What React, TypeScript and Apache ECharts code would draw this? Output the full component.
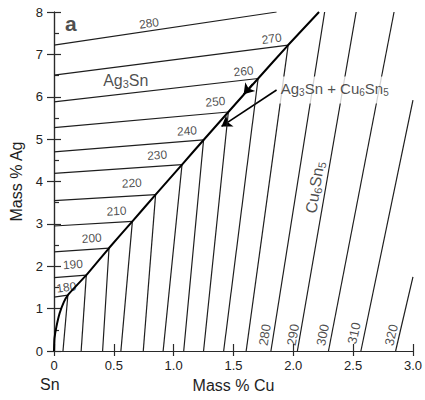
import React, { useEffect, useRef } from 'react';
import * as echarts from 'echarts';

// isotherm temperatures (°C)
const temperatures = [180, 190, 200, 210, 220, 230, 240, 250, 260, 270, 280, 290, 300, 310, 320];

// Ag3Sn primary field isotherms (180..280): value on the Sn–Ag edge and end point
const ag3SnStartY = [1.27, 1.73, 2.34, 2.95, 3.55, 4.19, 4.7, 5.27, 5.88, 6.51, 7.22];
const ag3SnEndX = [0.116, 0.27, 0.46, 0.655, 0.849, 1.07, 1.25, 1.457, 1.706, 1.957, 1.86];
const ag3SnEndY = [1.32, 1.79, 2.43, 3.06, 3.69, 4.4, 4.98, 5.64, 6.43, 7.22, 8.0];

// Cu6Sn5 primary field isotherms (180..320): upper end and intercept at 0 % Ag
const cu6Sn5TopX = [0.116, 0.27, 0.46, 0.655, 0.849, 1.07, 1.25, 1.457, 1.706, 1.957, 2.262, 2.525, 2.842, 3.0, 3.0];
const cu6Sn5TopY = [1.32, 1.79, 2.43, 3.06, 3.69, 4.4, 4.98, 5.64, 6.43, 7.22, 8, 8, 8, 5.92, 1.75];
const cu6Sn5BaseX = [0.075, 0.227, 0.406, 0.559, 0.746, 0.912, 1.084, 1.25, 1.418, 1.606, 1.813, 2.034, 2.294, 2.565, 2.855];

// eutectic valley L -> L + Ag3Sn + Cu6Sn5
const valleyX = [0, 0.004, 0.02, 0.047, 0.083, 0.116, 0.19, 0.27, 0.46, 0.655, 0.849, 1.07, 1.25, 1.457, 1.706, 1.957, 2.215];
const valleyY = [0, 0.3, 0.57, 0.89, 1.16, 1.32, 1.55, 1.79, 2.43, 3.06, 3.69, 4.4, 4.98, 5.64, 6.43, 7.22, 8];

// axis ticks
const xTicks = [0, 0.5, 1.0, 1.5, 2.0, 2.5, 3.0];
const yTicks = [0, 1, 2, 3, 4, 5, 6, 7, 8];
const yMinorTicks = [0.5, 1.5, 2.5, 3.5, 4.5, 5.5, 6.5, 7.5];

// annotation anchors (data coordinates) and angles
const ag3SnLabelAt: [number, number, number][] = [
  [0.103, 1.5, 8], [0.158, 2.04, 4], [0.315, 2.66, 4], [0.522, 3.3, 3], [0.65, 3.96, 3],
  [0.862, 4.62, 4], [1.111, 5.19, 4], [1.349, 5.88, 5], [1.584, 6.6, 6], [1.819, 7.37, 7], [0.794, 7.73, 8],
];
const cu6Sn5LabelAt: [number, number, number][] = [
  [1.761, 0.38, 81], [1.996, 0.38, 80], [2.245, 0.38, 79], [2.507, 0.42, 78], [2.818, 0.38, 77],
];

const FONT = 'Liberation Sans, Arial, sans-serif';
const INK = '#1e1e1e';

export default function App() {
  const ref = useRef<HTMLDivElement>(null);

  useEffect(() => {
    if (!ref.current) return;
    const chart = echarts.init(ref.current, undefined, { renderer: 'svg' });

    const thin = { color: INK, width: 1.2 };
    const series: any[] = [];

    ag3SnStartY.forEach((y0, i) => {
      series.push({
        type: 'line', symbol: 'none', silent: true, clip: true,
        lineStyle: thin,
        data: [[0, y0], [ag3SnEndX[i], ag3SnEndY[i]]],
      });
    });

    cu6Sn5BaseX.forEach((x0, i) => {
      series.push({
        type: 'line', symbol: 'none', silent: true, clip: true,
        lineStyle: thin,
        data: [[cu6Sn5TopX[i], cu6Sn5TopY[i]], [x0, 0]],
      });
    });

    series.push({
      type: 'line', symbol: 'none', silent: true, smooth: 0.2,
      lineStyle: { color: '#000', width: 2 },
      data: valleyX.map((x, i) => [x, valleyY[i]]),
    });

    // arrows
    series.push({
      type: 'lines', coordinateSystem: 'cartesian2d', silent: true,
      symbol: ['none', 'arrow'], symbolSize: [7, 10],
      lineStyle: { color: '#000', width: 1.6, opacity: 1 },
      data: [
        { coords: [[1.86, 6.16], [1.4, 5.3]] },
        { coords: [[1.66, 6.3], [1.585, 6.06]] },
      ],
    });

    const textLabel = (fontSize: number, extra: any = {}) => ({
      show: true, position: 'inside', color: INK, fontFamily: FONT, fontSize,
      formatter: (p: any) => p.name, ...extra,
    });

    // isotherm labels in the Ag3Sn field
    series.push({
      type: 'scatter', symbolSize: 0, silent: true,
      label: textLabel(12),
      data: ag3SnLabelAt.map((a, i) => ({
        name: String(temperatures[i]), value: [a[0], a[1]], label: { rotate: a[2] },
      })),
    });

    // isotherm labels in the Cu6Sn5 field
    series.push({
      type: 'scatter', symbolSize: 0, silent: true,
      label: textLabel(13),
      data: cu6Sn5LabelAt.map((a, i) => ({
        name: String(temperatures[10 + i]), value: [a[0], a[1]], label: { rotate: a[2] },
      })),
    });

    const rich = (fs: number) => ({
      n: { fontSize: fs, fontFamily: FONT, color: INK, lineHeight: fs + 2 },
      s: { fontSize: Math.round(fs * 0.68), fontFamily: FONT, color: INK, lineHeight: 6, verticalAlign: 'bottom' },
    });

    // phase field labels
    series.push({
      type: 'scatter', symbolSize: 0, silent: true, z: 5,
      label: { show: true, position: 'inside' },
      data: [
        {
          name: 'Ag3Sn', value: [0.6, 6.39],
          label: { formatter: '{n|Ag}{s|3}{n|Sn}', rich: rich(16) },
        },
        {
          name: 'Cu6Sn5', value: [2.18, 3.86],
          label: { formatter: '{n|Cu}{s|6}{n|Sn}{s|5}', rich: rich(16), rotate: 81 },
        },
        {
          name: 'Ag3Sn + Cu6Sn5', value: [1.87, 6.16],
          label: {
            position: 'right', distance: 1,
            backgroundColor: '#fff', padding: [4, 2, 6, 2],
            formatter: '{n|Ag}{s|3}{n|Sn + Cu}{s|6}{n|Sn}{s|5}', rich: rich(15),
          },
        },
        {
          name: 'a', value: [0.14, 7.72],
          label: { formatter: 'a', fontFamily: FONT, fontSize: 21, fontWeight: 'bold', color: INK },
        },
      ],
    });

    const axisLine = { show: true, lineStyle: { color: '#2a2a2a', width: 1.2 } };
    const tickStyle = { color: '#2a2a2a', width: 1.2 };

    chart.setOption({
      animation: false,
      backgroundColor: '#fff',
      grid: { left: 54, right: 9, top: 12, bottom: 49, containLabel: false },
      graphic: [
        {
          type: 'text', left: 40, top: 376,
          style: { text: 'Sn', fontSize: 16, fontFamily: FONT, fill: INK },
        },
      ],
      xAxis: [
        {
          type: 'value', position: 'bottom', min: 0, max: 3, interval: 0.5,
          axisLine, axisTick: { show: true, length: 5, lineStyle: tickStyle },
          splitLine: { show: false },
          axisLabel: {
            show: true, color: '#222', fontSize: 13, fontFamily: FONT, margin: 8,
            customValues: xTicks,
            formatter: (v: number) => (v === 0 ? '0' : v.toFixed(1)),
          },
          name: 'Mass % Cu', nameLocation: 'middle', nameGap: 26,
          nameTextStyle: { fontSize: 16, fontFamily: FONT, color: INK },
        },
        {
          type: 'value', position: 'top', min: 0, max: 3, interval: 0.5,
          axisLine, axisTick: { show: true, length: 7, lineStyle: tickStyle },
          splitLine: { show: false }, axisLabel: { show: false },
        },
      ],
      yAxis: [
        {
          type: 'value', position: 'left', min: 0, max: 8, interval: 1,
          axisLine, axisTick: { show: true, length: 7, lineStyle: tickStyle },
          splitLine: { show: false },
          axisLabel: {
            show: true, color: '#222', fontSize: 13, fontFamily: FONT, margin: 11,
            customValues: yTicks,
          },
          name: 'Mass % Ag', nameLocation: 'middle', nameGap: 28,
          nameTextStyle: { fontSize: 16, fontFamily: FONT, color: INK },
        },
        {
          type: 'value', position: 'right', min: 0, max: 8, interval: 1,
          axisLine, axisTick: { show: true, length: 7, lineStyle: tickStyle },
          splitLine: { show: false }, axisLabel: { show: false },
        },
        {
          type: 'value', position: 'left', min: 0, max: 8, interval: 0.5,
          axisLine: { show: false },
          axisTick: { show: true, inside: true, length: 5, lineStyle: tickStyle, customValues: yMinorTicks },
          splitLine: { show: false }, axisLabel: { show: false },
        },
      ],
      series,
    });

    return () => chart.dispose();
  }, []);

  return (
    <div
      ref={ref}
      style={{ position: 'fixed', left: 0, top: 0, width: 425, height: 400, background: '#fff' }}
    />
  );
}
